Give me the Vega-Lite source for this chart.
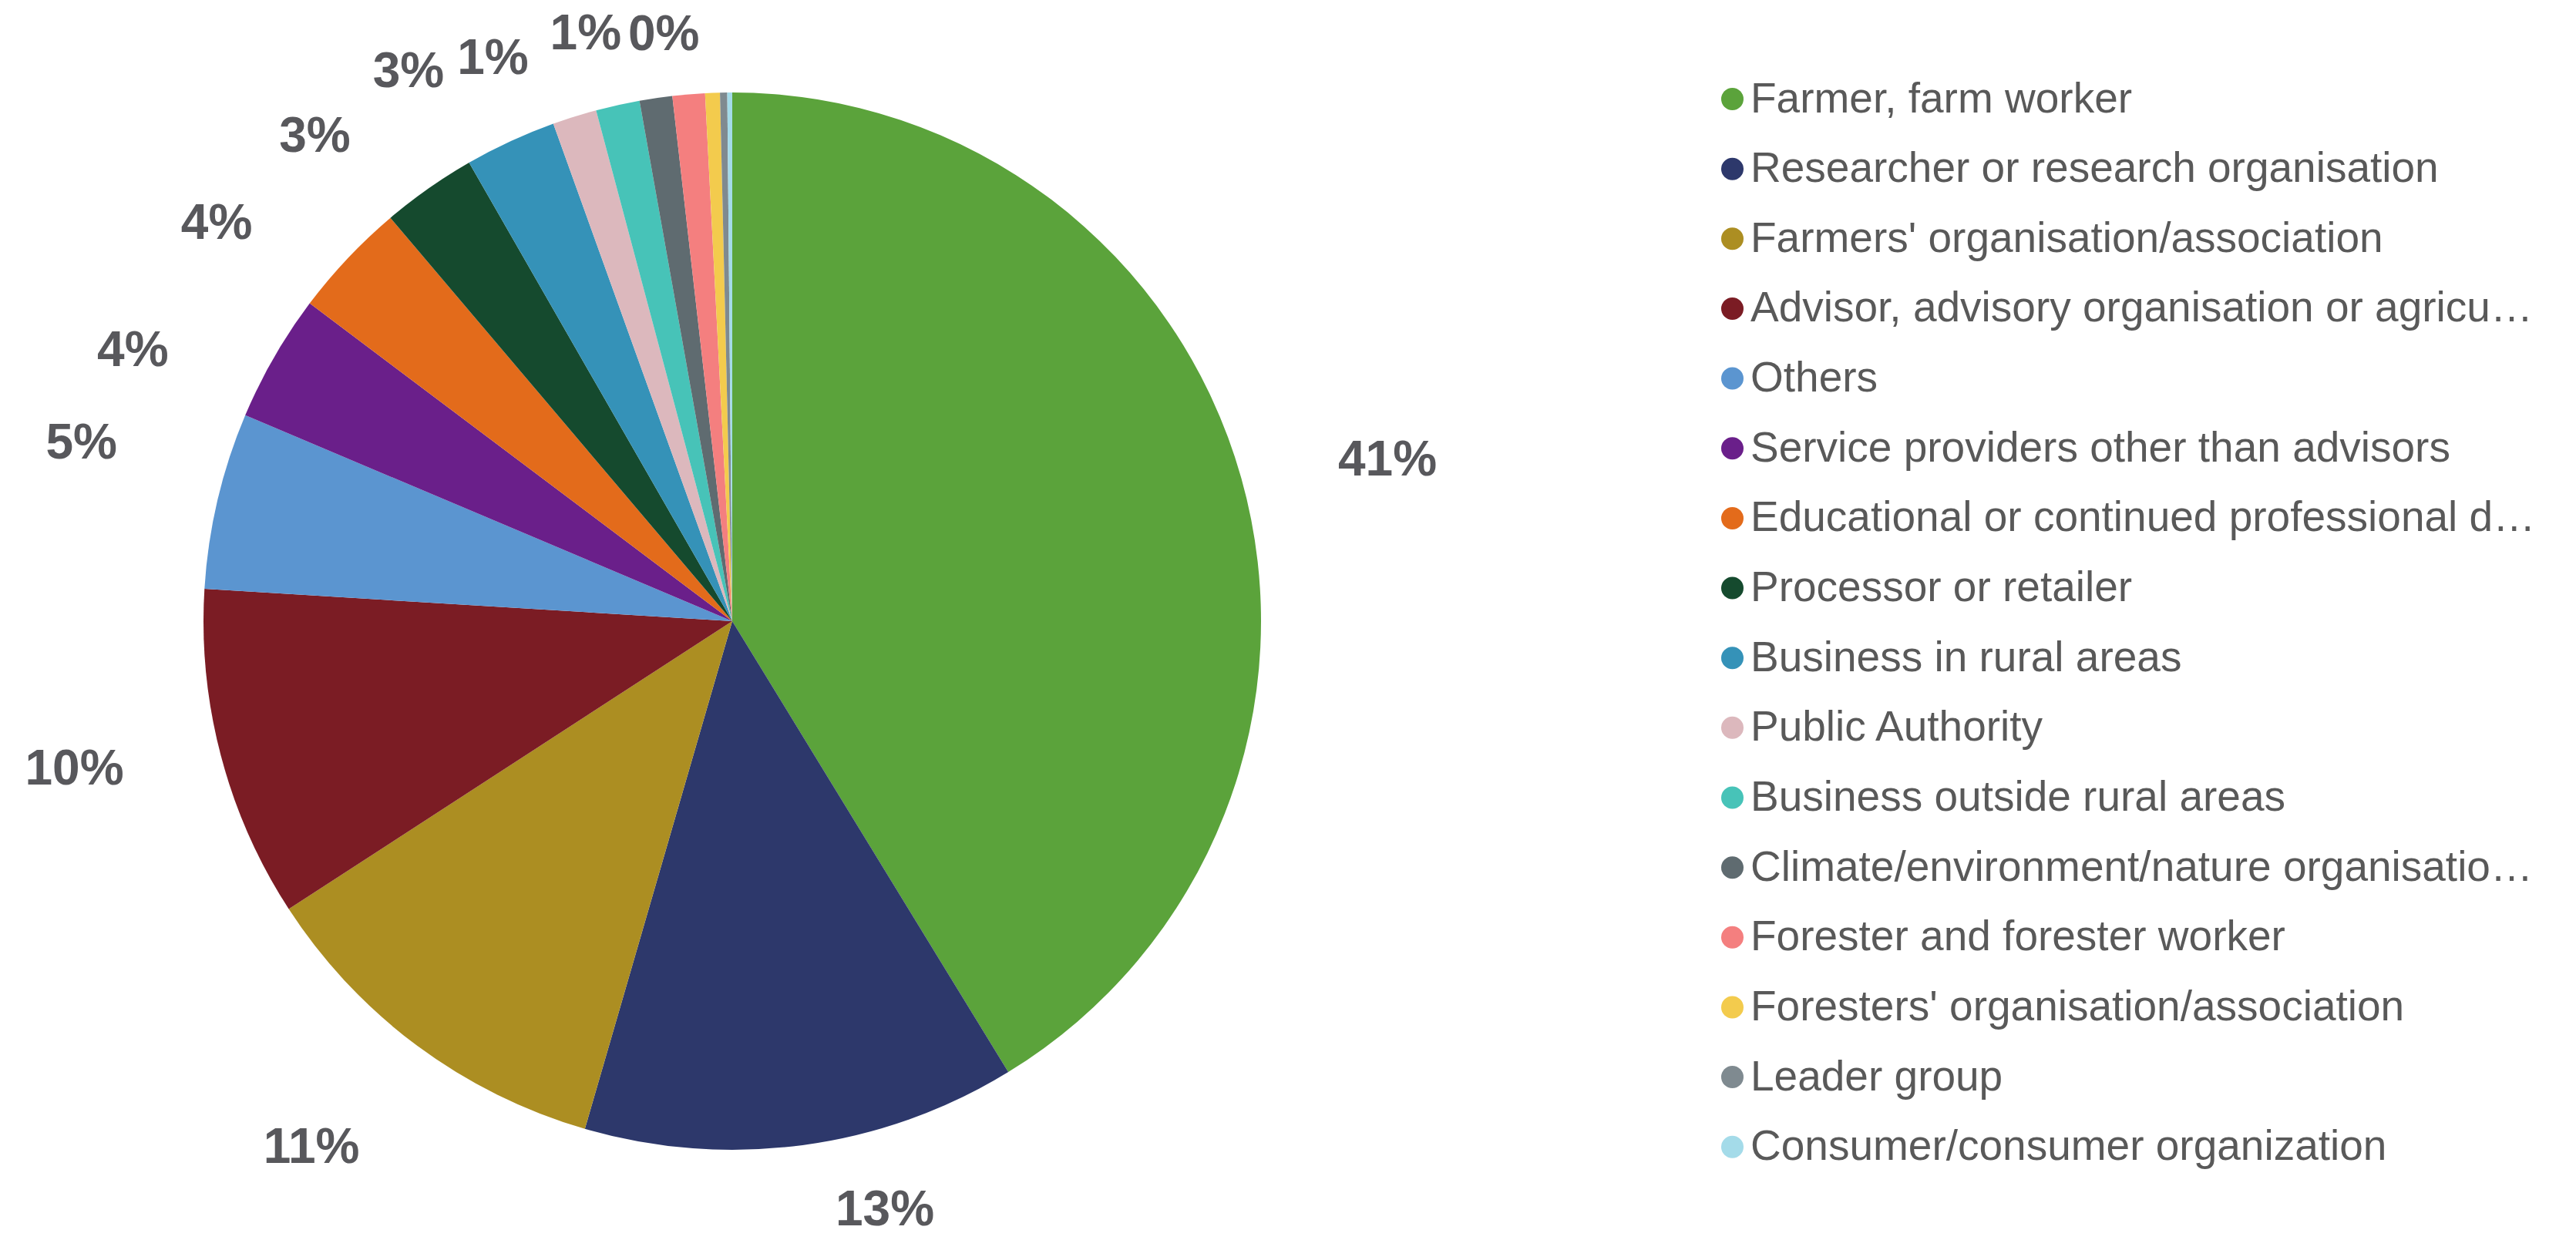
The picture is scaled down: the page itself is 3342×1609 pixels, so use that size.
{
  "$schema": "https://vega.github.io/schema/vega-lite/v6.json",
  "width": 1900,
  "height": 1612,
  "autosize": {"type": "none"},
  "padding": {"left": 0, "top": 0, "right": 1442, "bottom": 0},
  "background": "white",
  "config": {"view": {"stroke": null}},
  "data": {
    "values": [
      {"category": "Farmer, farm worker", "value": 41.3, "label": "41%"},
      {"category": "Researcher or research organisation", "value": 13.25, "label": "13%"},
      {"category": "Farmers' organisation/association", "value": 11.35, "label": "11%"},
      {"category": "Advisor, advisory organisation or agricu…", "value": 10.15, "label": "10%"},
      {"category": "Others", "value": 5.4, "label": "5%"},
      {"category": "Service providers other than advisors", "value": 3.9, "label": "4%"},
      {"category": "Educational or continued professional d…", "value": 3.55, "label": "4%"},
      {"category": "Processor or retailer", "value": 2.9, "label": "3%"},
      {"category": "Business in rural areas", "value": 2.8, "label": "3%"},
      {"category": "Public Authority", "value": 1.35, "label": "1%"},
      {"category": "Business outside rural areas", "value": 1.34, "label": ""},
      {"category": "Climate/environment/nature organisatio…", "value": 1.0, "label": "1%"},
      {"category": "Forester and forester worker", "value": 0.99, "label": ""},
      {"category": "Foresters' organisation/association", "value": 0.45, "label": ""},
      {"category": "Leader group", "value": 0.22, "label": "0%"},
      {"category": "Consumer/consumer organization", "value": 0.15, "label": ""}
    ]
  },
  "encoding": {
    "theta": {"field": "value", "type": "quantitative", "stack": true},
    "order": {"field": "value", "type": "quantitative", "sort": "descending"},
    "color": {
      "field": "category",
      "type": "nominal",
      "scale": {
        "domain": [
          "Farmer, farm worker",
          "Researcher or research organisation",
          "Farmers' organisation/association",
          "Advisor, advisory organisation or agricu…",
          "Others",
          "Service providers other than advisors",
          "Educational or continued professional d…",
          "Processor or retailer",
          "Business in rural areas",
          "Public Authority",
          "Business outside rural areas",
          "Climate/environment/nature organisatio…",
          "Forester and forester worker",
          "Foresters' organisation/association",
          "Leader group",
          "Consumer/consumer organization"
        ],
        "range": [
          "#5ba33b", "#2d386b", "#ac8e22", "#7b1c24", "#5b95d0", "#6a1f8a",
          "#e36b1b", "#154a2e", "#3592b8", "#dcb8bd", "#47c3b8", "#5f6b70",
          "#f47f7f", "#f3cb4d", "#7f8a90", "#a4dbe9"
        ]
      },
      "legend": {
        "title": null,
        "orient": "none",
        "legendX": 2220,
        "legendY": 101,
        "padding": 0,
        "symbolType": "circle",
        "symbolSize": 841,
        "symbolStrokeWidth": 0,
        "labelFont": "Liberation Sans",
        "labelFontSize": 55,
        "labelColor": "#595959",
        "labelOffset": -4,
        "labelLimit": 1200,
        "rowPadding": 34.65,
        "columns": 1
      }
    }
  },
  "layer": [
    {"mark": {"type": "arc", "outerRadius": 686}},
    {
      "mark": {"type": "text", "radius": 875, "thetaOffset": 0.035, "font": "Liberation Sans", "fontWeight": "bold", "fontSize": 64, "fill": "#58585c", "align": "center", "baseline": "middle"},
      "encoding": {
        "color": {"value": "#58585c"},
        "text": {"condition": {"test": "(datum.value >= 12 && datum.value <= 20) || datum.value < 4.5", "value": ""}, "field": "label"}
      }
    },
    {
      "mark": {"type": "text", "radius": 790, "thetaOffset": -0.12, "font": "Liberation Sans", "fontWeight": "bold", "fontSize": 64, "fill": "#58585c", "align": "center", "baseline": "middle"},
      "encoding": {
        "color": {"value": "#58585c"},
        "text": {"condition": {"test": "datum.value < 12 || datum.value > 20", "value": ""}, "field": "label"}
      }
    },
    {
      "mark": {"type": "text", "thetaOffset": -0.1, "font": "Liberation Sans", "fontWeight": "bold", "fontSize": 64, "fill": "#58585c", "align": "center", "baseline": "middle"},
      "encoding": {
        "color": {"value": "#58585c"},
        "radius": {"field": "value", "type": "quantitative", "scale": {"type": "linear", "domain": [0.2, 4], "range": [765, 855], "zero": false, "clamp": true}},
        "text": {"condition": {"test": "datum.value >= 4.5", "value": ""}, "field": "label"}
      }
    }
  ]
}
